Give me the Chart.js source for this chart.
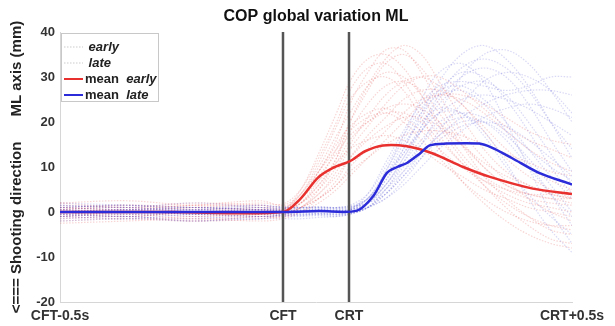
<!DOCTYPE html>
<html>
<head>
<meta charset="utf-8">
<script src="https://cdn.jsdelivr.net/npm/chart.js@4.4.1/dist/chart.umd.min.js"></script>
<style>
  html, body { margin: 0; padding: 0; background: #fff; }
  #wrap { width: 615px; height: 326px; }
</style>
</head>
<body>
<div id="wrap"><canvas id="chart" width="615" height="326"></canvas></div>
<script>
// time in ms relative to CFT; CRT sits at 148 ms
const traceTimes = [-500, -350, -200, -50, 0, 40, 80, 120, 150, 190, 230, 270, 310, 350, 400, 450, 500, 550, 600, 648];

const earlyTraces = [
  [1, 1.5, 0.5, 1, 0.8, 4, 10, 17, 22, 28, 31, 30, 26, 20, 13, 8, 5, 3, 2, 1.5],
  [-1, -0.5, -1.5, -1, -0.8, 2, 7, 14, 20, 27, 33, 35, 32, 26, 18, 12, 7, 3, 0, -2],
  [0.5, 0, 1, 0.5, 0.3, 3, 9, 16, 24, 31, 36, 36, 31, 24, 16, 10, 6, 4, 3, 2],
  [-2, -1.5, -2, -1, -1.2, 1, 4, 8, 12, 16, 19, 21, 21, 19, 15, 11, 8, 6, 4, 3],
  [2, 2.5, 1.5, 2, 1.8, 5, 12, 20, 27, 32, 33, 29, 23, 17, 11, 6, 2, -1, -3, -4],
  [0, -0.5, 0.5, 0, 0.2, 2, 5, 10, 15, 21, 26, 29, 30, 28, 24, 19, 14, 10, 7, 5],
  [-1, 0, -0.5, -1, -0.5, 1, 3, 6, 9, 12, 15, 17, 18, 18, 17, 15, 13, 11, 9, 8],
  [1.5, 1, 2, 1.5, 1.2, 3, 8, 13, 17, 20, 22, 22, 20, 16, 11, 7, 4, 2, 1, 0],
  [-0.5, -1, 0, -0.5, -0.3, 1, 4, 9, 14, 19, 24, 28, 30, 30, 27, 23, 19, 16, 14, 12],
  [0.5, 1, 0, 0.5, 0.4, 4, 11, 19, 25, 29, 30, 27, 21, 14, 7, 2, -2, -5, -7, -8],
  [-1.5, -1, -2, -1.5, -1, 0, 2, 5, 8, 12, 16, 20, 24, 26, 26, 24, 21, 18, 16, 15],
  [1, 0.5, 1, 1.5, 0.6, 2, 6, 11, 16, 20, 23, 24, 23, 20, 15, 10, 6, 4, 3, 3],
  [0, 0.5, -0.5, 0, 0.1, 3, 9, 15, 19, 22, 23, 21, 18, 14, 10, 7, 5, 4, 4, 5],
  [-2.5, -2, -1.5, -2, -1.5, 0, 3, 7, 12, 17, 21, 25, 27, 27, 24, 18, 12, 8, 5, 3],
  [1, 0.5, 1.5, 1, 0.5, 5, 13, 22, 29, 34, 35, 32, 26, 19, 12, 6, 1, -3, -6, -7],
  [-0.5, 0, -1, -0.5, 0, 2, 6, 12, 18, 24, 28, 29, 27, 22, 15, 8, 3, -1, -4, -5],
  [0.5, 1.5, 1, 0.5, 0.6, 3, 7, 11, 14, 16, 17, 16, 14, 11, 8, 5, 3, 1, 0, -1],
  [-1, -1.5, -1, -0.5, -0.7, 1, 5, 12, 20, 28, 34, 37, 35, 29, 21, 14, 9, 6, 4, 3],
  [2, 1, 1.5, 2.5, 1.5, 4, 9, 14, 18, 21, 22, 20, 16, 12, 7, 3, 0, -2, -3, -3],
  [0, -1, 0, 0.5, -0.2, 1, 3, 6, 10, 14, 18, 22, 25, 26, 25, 22, 18, 14, 11, 9]
];

const lateTraces = [
  [0.5, 1, 0, 0.5, 0.3, 0.3, 0.5, 0.4, 0.5, 2, 6, 12, 19, 26, 32, 34, 32, 27, 20, 14],
  [-1, -0.5, -1, -1.5, -0.5, -0.5, -0.3, -0.5, -0.2, 1, 4, 9, 15, 22, 30, 35, 36, 33, 27, 20],
  [1.5, 1, 2, 1, 1.2, 1, 1.2, 1, 1.5, 4, 10, 17, 23, 27, 28, 25, 20, 14, 8, 3],
  [-0.5, 0, -0.5, 0, -0.2, 0, 0.2, 0, 0.3, 2, 7, 14, 22, 29, 35, 37, 34, 28, 20, 12],
  [0, 0.5, 0.5, 0, 0.3, 0.3, 0.2, 0.4, 0.6, 3, 8, 13, 18, 22, 25, 26, 25, 23, 20, 17],
  [2, 1.5, 1, 1.5, 1, 1, 0.8, 1, 1.2, 2, 5, 9, 13, 17, 21, 24, 26, 27, 27, 26],
  [-1.5, -1, -2, -1, -1, -1, -0.8, -1, -0.5, 1, 5, 10, 15, 19, 21, 20, 16, 10, 4, -1],
  [1, 0.5, 1, 0.5, 0.6, 0.5, 0.6, 0.5, 0.8, 3, 9, 16, 22, 26, 27, 24, 18, 11, 4, -3],
  [-0.5, -1, 0, -0.5, -0.4, -0.3, -0.2, -0.3, 0, 1, 3, 7, 12, 18, 24, 29, 31, 30, 27, 22],
  [0, 0.5, -0.5, 0, 0, 0, 0.2, 0.1, 0.4, 2, 6, 11, 16, 20, 22, 21, 18, 14, 10, 7],
  [1, 1.5, 0.5, 1, 0.8, 0.8, 1, 0.8, 1, 2, 4, 8, 12, 16, 19, 20, 19, 16, 12, 8],
  [-1, -1.5, -0.5, -1, -0.8, -0.8, -0.6, -0.8, -0.4, 1, 5, 11, 18, 24, 28, 29, 26, 20, 13, 6],
  [0.5, 0, 0.5, 1, 0.4, 0.4, 0.5, 0.3, 0.6, 4, 11, 18, 24, 28, 29, 28, 27, 28, 30, 30],
  [-2, -1.5, -2, -1.5, -1.5, -1.5, -1.2, -1, -0.5, 1, 4, 8, 13, 17, 20, 20, 17, 12, 6, 0],
  [0.5, -0.5, 0, 0.5, 0.1, 0.1, 0.3, 0.2, 0.4, 3, 9, 17, 25, 31, 33, 29, 20, 10, 0, -7],
  [-1, 0, -0.5, -1, -0.6, -0.6, -0.4, -0.5, -0.2, 2, 6, 12, 18, 22, 22, 18, 11, 3, -4, -9],
  [1, 1.5, 1, 0.5, 0.9, 0.9, 1, 0.8, 1, 3, 7, 13, 19, 25, 30, 32, 30, 24, 16, 9],
  [-0.5, -1, -1.5, -0.5, -0.7, -0.7, -0.5, -0.6, -0.3, 1, 3, 6, 10, 14, 18, 21, 23, 24, 23, 21],
  [0, 0.5, 1, 0.5, 0.3, 0.3, 0.4, 0.3, 0.5, 2, 8, 15, 20, 23, 22, 17, 10, 4, -1, -5],
  [1.5, 1, 0.5, 1.5, 1, 1, 1.1, 1, 1.3, 3, 8, 14, 21, 27, 31, 30, 25, 18, 10, 4]
];

const meanEarlyTimes = [-500, -250, 0, 38, 78, 112, 150, 184, 224, 278, 336, 404, 464, 560, 648];
const meanEarlyValues = [0, 0, 0, 2.8, 7.6, 9.8, 11.3, 13.5, 14.8, 14.6, 13, 10, 7.8, 5.2, 4];

const meanLateTimes = [-500, -250, 0, 80, 166, 202, 233, 256, 278, 307, 329, 366, 440, 468, 513, 574, 648];
const meanLateValues = [0, 0, 0, 0.2, 0.3, 3.5, 8.7, 10, 10.9, 13, 14.8, 15.2, 15.2, 14.3, 12, 8.7, 6.1];

const markerTimes = [0, 148];
const xTickValues = [-500, 0, 148, 648];
const xTickLabels = ['CFT-0.5s', 'CFT', 'CRT', 'CRT+0.5s'];
const yTickValues = [-20, -10, 0, 10, 20, 30, 40];

const chartTitle = 'COP global variation ML';
const legendPrefixes = [' ', ' ', 'mean  ', 'mean  '];
const legendNames = ['early', 'late', 'early', 'late'];
const legendColors = ['rgba(190,190,190,0.8)', 'rgba(190,190,190,0.8)', '#e8312f', '#2b2bd9'];

const FONT = "'Liberation Sans', Arial, sans-serif";

const toPoints = (times, values) => times.map((t, i) => ({ x: t, y: values[i] }));

const datasets = [];

datasets.push({
  label: 'mean late',
  data: toPoints(meanLateTimes, meanLateValues),
  borderColor: '#2b2bd9',
  borderWidth: 2.5,
  pointRadius: 0,
  tension: 0.3,
  order: 0
});

datasets.push({
  label: 'mean early',
  data: toPoints(meanEarlyTimes, meanEarlyValues),
  borderColor: '#e8312f',
  borderWidth: 2.5,
  pointRadius: 0,
  tension: 0.3,
  order: 1
});

markerTimes.forEach((t) => {
  datasets.push({
    label: 'marker',
    data: [{ x: t, y: -20 }, { x: t, y: 40 }],
    borderColor: '#555',
    borderWidth: 2.5,
    pointRadius: 0,
    order: 2
  });
});

lateTraces.forEach((vals) => {
  datasets.push({
    label: 'late',
    data: toPoints(traceTimes, vals),
    borderColor: 'rgba(80,80,210,0.22)',
    borderWidth: 1.2,
    borderDash: [1.5, 1.5],
    pointRadius: 0,
    tension: 0.35,
    order: 3
  });
});

earlyTraces.forEach((vals) => {
  datasets.push({
    label: 'early',
    data: toPoints(traceTimes, vals),
    borderColor: 'rgba(225,70,70,0.22)',
    borderWidth: 1.2,
    borderDash: [1.5, 1.5],
    pointRadius: 0,
    tension: 0.35,
    order: 4
  });
});

// title centred over the plot area plus a MATLAB style boxed legend
const boxLegend = {
  id: 'boxLegend',
  afterDraw(chart) {
    const ctx = chart.ctx;
    const a = chart.chartArea;
    ctx.save();
    ctx.fillStyle = '#111';
    ctx.font = 'bold 16px ' + FONT;
    ctx.textAlign = 'center';
    ctx.textBaseline = 'middle';
    ctx.fillText(chartTitle, (a.left + a.right) / 2, 17);
    ctx.textAlign = 'left';

    const x0 = a.left + 1, y0 = a.top + 1, w = 97, h = 68;
    ctx.fillStyle = '#fff';
    ctx.fillRect(x0, y0, w, h);
    ctx.strokeStyle = '#c8c8c8';
    ctx.lineWidth = 1;
    ctx.strokeRect(x0 + 0.5, y0 + 0.5, w, h);
    for (let i = 0; i < legendNames.length; i++) {
      const y = y0 + 14 + i * 16;
      ctx.beginPath();
      ctx.strokeStyle = legendColors[i];
      if (i < 2) {
        ctx.lineWidth = 1;
        ctx.setLineDash([1.5, 1.5]);
      } else {
        ctx.lineWidth = 2;
        ctx.setLineDash([]);
      }
      ctx.moveTo(x0 + 3, y);
      ctx.lineTo(x0 + 22, y);
      ctx.stroke();
      ctx.setLineDash([]);
      ctx.fillStyle = '#222';
      ctx.font = 'bold 13px ' + FONT;
      ctx.fillText(legendPrefixes[i], x0 + 24, y);
      const pw = ctx.measureText(legendPrefixes[i]).width;
      ctx.font = 'italic bold 13px ' + FONT;
      ctx.fillText(legendNames[i], x0 + 24 + pw, y);
    }
    ctx.restore();
  }
};

new Chart(document.getElementById('chart').getContext('2d'), {
  type: 'line',
  data: { datasets: datasets },
  plugins: [boxLegend],
  options: {
    responsive: false,
    animation: false,
    layout: { padding: { left: 0, right: 43, top: 32, bottom: 0 } },
    plugins: {
      legend: { display: false },
      tooltip: { enabled: false },
      title: { display: false }
    },
    scales: {
      x: {
        type: 'linear',
        min: -500,
        max: 648,
        grid: { display: false, drawTicks: false },
        border: { display: true, color: '#d6d6d6' },
        afterBuildTicks: (scale) => {
          scale.ticks = xTickValues.map((v) => ({ value: v }));
        },
        afterFit: (scale) => { scale.height = 24; },
        ticks: {
          autoSkip: false,
          maxRotation: 0,
          padding: 6,
          color: '#333',
          font: { family: FONT, size: 14, weight: 'bold' },
          callback: (v) => {
            const i = xTickValues.indexOf(v);
            return i >= 0 ? xTickLabels[i] : '';
          }
        }
      },
      y: {
        min: -20,
        max: 40,
        grid: { display: false, drawTicks: false },
        border: { display: true, color: '#d6d6d6' },
        afterBuildTicks: (scale) => {
          scale.ticks = yTickValues.map((v) => ({ value: v }));
        },
        afterFit: (scale) => { scale.width = 60; },
        ticks: {
          padding: 5,
          color: '#333',
          font: { family: FONT, size: 13, weight: 'bold' }
        },
        title: {
          display: true,
          text: '<=== Shooting direction      ML axis (mm)',
          color: '#222',
          font: { family: FONT, size: 15, weight: 'bold' },
          padding: { top: 8, bottom: 0 }
        }
      }
    }
  }
});
</script>
</body>
</html>
